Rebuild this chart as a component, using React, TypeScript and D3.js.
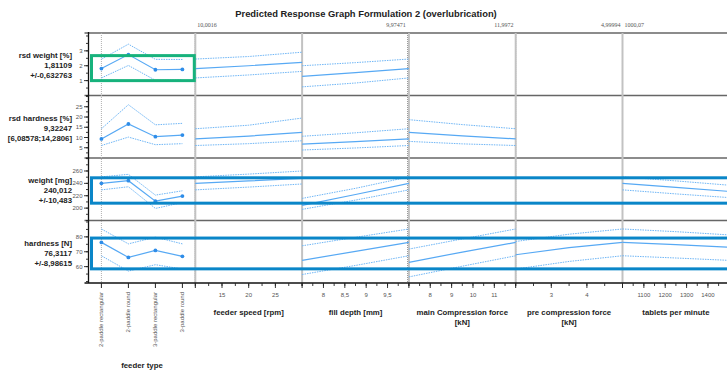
import React from "react";
import * as d3 from "d3";

// chart values
const title = "Predicted Response Graph Formulation 2 (overlubrication)";

const feederTypes = ["2-paddle rectangular", "2-paddle round", "3-paddle rectangular", "3-paddle round"];

const factorNames = [["feeder type"], ["feeder speed [rpm]"], ["fill depth [mm]"], ["main Compression force", "[kN]"], ["pre compression force", "[kN]"], ["tablets per minute"]];
const factorDomains = [null, [10, 30], [7.5, 10], [7, 12], [2, 5], [1000, 1500]];
const factorTicks = [[], [15, 20, 25], [8, 8.5, 9, 9.5], [8, 9, 10, 11], [3, 4], [1100, 1200, 1300, 1400]];
const factorMinor = [0, 2.5, 0.25, 0.5, 0.5, 50];
const factorCurrent = [0, 10.0016, 9.97471, 11.9972, 4.99994, 1000.07];
const factorCurrentLabels = ["", "10,0016", "9,97471", "11,9972", "4,99994", "1000,07"];

const responseNames = ["rsd weight [%]", "rsd hardness [%]", "weight [mg]", "hardness [N]"];
const responseValues = ["1,81109", "9,32247", "240,012", "76,3117"];
const responseIntervals = ["+/-0,632763", "[6,08578;14,2806]", "+/-10,483", "+/-8,98615"];
const responseDomains = [[0, 4.2], [0, 30.5], [180, 281], [49, 91]];
const responseTicks = [[1, 2, 3], [5, 10, 15, 20, 25], [200, 220, 240, 260], [60, 70, 80]];
const responseMinor = [0.5, 2.5, 10, 5];

// [x, lower, prediction, upper]; feeder type x = category index
const rsdWeightCurves = [
  [[0, 1.18, 1.81, 2.44], [1, 2.02, 2.75, 3.45], [2, 1.02, 1.73, 2.43], [3, 1.05, 1.75, 2.42]],
  [[10, 1.18, 1.81, 2.45], [20, 1.38, 2.0, 2.62], [30, 1.62, 2.23, 2.91]],
  [[7.5, 0.58, 1.29, 2.0], [8.75, 0.84, 1.54, 2.21], [10, 1.18, 1.81, 2.45]],
  null, null, null,
];
const rsdHardnessCurves = [
  [[0, 6.09, 9.32, 14.28], [1, 10.2, 16.6, 26], [2, 6.5, 10.4, 16.2], [3, 7, 11.2, 16.9]],
  [[10, 6.09, 9.32, 14.28], [20, 7.0, 10.7, 16.0], [30, 8.4, 12.5, 19.5]],
  [[7.5, 3.9, 6.8, 10.6], [8.75, 4.9, 8.0, 12.3], [10, 6.09, 9.32, 14.28]],
  [[7, 8.1, 12.5, 18.7], [9.5, 6.9, 10.8, 16.3], [12, 6.09, 9.32, 14.28]],
  null, null,
];
const weightCurves = [
  [[0, 229.5, 240, 250.5], [1, 234.5, 244.3, 254.6], [2, 199.5, 211.3, 221], [3, 209, 219.4, 228]],
  [[10, 229.5, 240, 250.5], [20, 234, 244, 255], [30, 239, 248, 260]],
  [[7.5, 198, 204.5, 215.7], [8.75, 213, 222, 232], [10, 229.5, 240, 250.5]],
  null, null,
  [[1000, 229.5, 240, 250.5], [1250, 223, 233.5, 244], [1500, 217, 227, 237]],
];
const hardnessCurves = [
  [[0, 67.3, 76.3, 85.3], [1, 57, 66.2, 75.3], [2, 61.3, 70.9, 79.8], [3, 58.4, 66.9, 75.3]],
  null,
  [[7.5, 54.7, 64.2, 74], [8.75, 60.8, 70.3, 79.7], [10, 67.3, 76.3, 85.3]],
  [[7, 53.1, 62.9, 71.8], [9.5, 60.3, 69.8, 78.6], [12, 67.3, 76.3, 85.3]],
  [[2, 58.4, 68, 76.9], [3.5, 63.5, 72.8, 81.8], [5, 67.3, 76.3, 85.3]],
  [[1000, 67.3, 76.3, 85.3], [1250, 65.8, 74.8, 83.5], [1500, 64.2, 73.1, 81.3]],
];
const allCurves = [rsdWeightCurves, rsdHardnessCurves, weightCurves, hardnessCurves];

// specification boxes: [low, high], colour, whether they run across all factors
const specRanges = [[1.0, 2.68], null, [208, 249], [58.5, 79.2]];
const specColors = ["#17b27c", "", "#0a86c8", "#0a86c8"];
const specWide = [false, false, true, true];

const W = 727, H = 372;
const left = 88.5, top = 33, colW = 106.8, rowH = 62.5;
const bottom = top + rowH * 4;
const lineBlue = "#57a9f4";
const comma = (v: number) => String(v).replace(".", ",");

export default function App() {
  const colX = (j: number) => left + j * colW;
  const rowY = (i: number) => top + i * rowH;

  const catScale = d3.scalePoint<string>().domain(feederTypes).range([colX(0), colX(1)]).padding(0.478);
  const xScales = factorDomains.map((dom, j) =>
    dom ? d3.scaleLinear().domain(dom).range([colX(j), colX(j + 1)]) : null
  );
  const xOf = (j: number, v: number) => (j === 0 ? (catScale(feederTypes[v]) as number) : xScales[j]!(v));
  const yScales = responseDomains.map((dom, i) => d3.scaleLinear().domain(dom).range([rowY(i + 1), rowY(i)]));

  const line = d3.line<[number, number]>().x(d => d[0]).y(d => d[1]);

  const range = (d: number[], step: number) =>
    d3.range(Math.ceil(d[0] / step - 1e-9) * step, d[1] + 1e-9, step);

  return (
    <svg width={W} height={H} style={{ position: "absolute", left: 0, top: 0 }} fontFamily="'Liberation Sans', Arial, sans-serif">
      <rect width={W} height={H} fill="#fff" />
      <text x={366} y={17} textAnchor="middle" fontSize={9.4} fontWeight="bold" fill="#222">{title}</text>

      {/* current settings */}
      {factorCurrent.map((v, j) => {
        if (j === 0) return null;
        const x = xScales[j]!(v);
        const inLeft = x < colX(j) + colW / 2;
        return (
          <text key={"cl" + j} x={inLeft ? x + 2 : x - 2} y={27} textAnchor={inLeft ? "start" : "end"}
            fontSize={6} fontFamily="'Liberation Serif', serif" fill="#555">{factorCurrentLabels[j]}</text>
        );
      })}

      {/* row dividers */}
      {d3.range(0, 4).map(i => (
        <line key={"hd" + i} x1={left - 4} x2={W} y1={rowY(i)} y2={rowY(i)} stroke="#666" strokeWidth={1.3} />
      ))}
      {/* current value markers */}
      {factorCurrent.map((v, j) => {
        const x = xOf(j, j === 0 ? 0 : v);
        return <line key={"cv" + j} x1={x} x2={x} y1={top} y2={bottom} stroke={j === 0 ? "#b0b0b0" : "#666"} strokeWidth={1} strokeDasharray="1,1" />;
      })}
      {/* column dividers */}
      {d3.range(1, 7).map(j => (
        <line key={"vd" + j} x1={colX(j)} x2={colX(j)} y1={top} y2={bottom} stroke="#c2c2c2" strokeWidth={2} />
      ))}

      {/* prediction curves */}
      {allCurves.map((curves, i) =>
        curves.map((pts, j) => {
          if (!pts) return null;
          const y = yScales[i];
          const path = (k: number) => line(pts.map(p => [xOf(j, p[0]), y(p[k])] as [number, number])) as string;
          return (
            <g key={"c" + i + "-" + j}>
              <path d={path(1)} fill="none" stroke="#6fb6f6" strokeWidth={1} strokeDasharray="1.5,1" />
              <path d={path(3)} fill="none" stroke="#6fb6f6" strokeWidth={1} strokeDasharray="1.5,1" />
              <path d={path(2)} fill="none" stroke={lineBlue} strokeWidth={1.2} />
              {j === 0 && pts.map((p, k) => (
                <circle key={k} cx={xOf(0, p[0])} cy={y(p[2])} r={1.9} fill="#2f8de8" />
              ))}
            </g>
          );
        })
      )}

      {/* specification boxes */}
      {specRanges.map((r, i) => {
        if (!r) return null;
        const y = yScales[i];
        const x1 = left + 3;
        const x2 = specWide[i] ? W + 10 : colX(1) - 1;
        return <rect key={"sp" + i} x={x1} y={y(r[1])} width={x2 - x1} height={y(r[0]) - y(r[1])}
          fill="none" stroke={specColors[i]} strokeWidth={3} />;
      })}

      {/* y axes */}
      <line x1={left} x2={left} y1={top - 1} y2={bottom} stroke="#111" strokeWidth={1.3} />
      {responseDomains.map((dom, i) => {
        const y = yScales[i];
        return (
          <g key={"ya" + i}>
            {range(dom, responseMinor[i]).map(v => (
              <line key={"m" + v} x1={left - 2.5} x2={left} y1={y(v)} y2={y(v)} stroke="#222" strokeWidth={0.9} />
            ))}
            {responseTicks[i].map(v => (
              <g key={"t" + v}>
                <line x1={left - 4.5} x2={left} y1={y(v)} y2={y(v)} stroke="#222" strokeWidth={0.9} />
                <text x={left - 6} y={y(v) + 2} textAnchor="end" fontSize={6} fill="#555">{comma(v)}</text>
              </g>
            ))}
            <g fontSize={7.8} fontWeight="bold" fill="#222" textAnchor="end">
              <text x={72} y={rowY(i) + 25}>{responseNames[i]}</text>
              <text x={72} y={rowY(i) + 35}>{responseValues[i]}</text>
              <text x={72} y={rowY(i) + 45}>{responseIntervals[i]}</text>
            </g>
          </g>
        );
      })}

      {/* x axes */}
      <line x1={left - 4} x2={W} y1={bottom} y2={bottom} stroke="#111" strokeWidth={1.5} />
      {feederTypes.map(c => {
        const x = catScale(c) as number;
        return (
          <g key={c}>
            <line x1={x} x2={x} y1={bottom} y2={bottom + 5} stroke="#222" />
            <text transform={`translate(${x + 2},${bottom + 9}) rotate(-90)`} textAnchor="end" fontSize={6} fill="#555">{c}</text>
          </g>
        );
      })}
      {factorDomains.map((dom, j) => {
        if (!dom) return null;
        const x = xScales[j]!;
        return (
          <g key={"xa" + j}>
            <line x1={colX(j)} x2={colX(j)} y1={bottom} y2={bottom + 5} stroke="#222" />
            {range(dom, factorMinor[j]).map(v => (
              <line key={"m" + v} x1={x(v)} x2={x(v)} y1={bottom} y2={bottom + 3} stroke="#222" strokeWidth={0.9} />
            ))}
            {factorTicks[j].map(v => (
              <g key={"t" + v}>
                <line x1={x(v)} x2={x(v)} y1={bottom} y2={bottom + 5} stroke="#222" strokeWidth={0.9} />
                <text x={x(v)} y={bottom + 14} textAnchor="middle" fontSize={6} fill="#555">{comma(v)}</text>
              </g>
            ))}
          </g>
        );
      })}
      {factorNames.map((lines, j) => (
        <g key={"fn" + j} fontSize={7.8} fontWeight="bold" fill="#222" textAnchor="middle">
          {lines.map((t, k) => (
            <text key={k} x={j === 0 ? 142 : colX(j) + colW / 2} y={j === 0 ? 368 : bottom + 32 + k * 10}>{t}</text>
          ))}
        </g>
      ))}
    </svg>
  );
}
